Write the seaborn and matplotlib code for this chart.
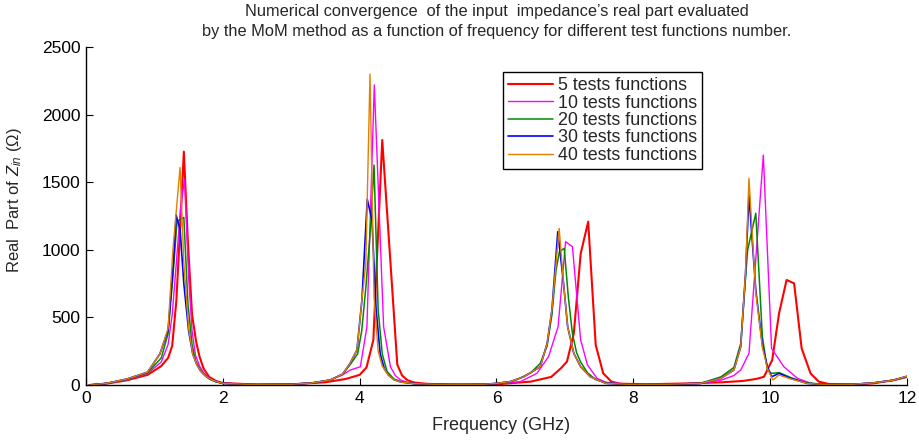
import matplotlib
matplotlib.use("Agg")
import matplotlib.pyplot as plt
import seaborn as sns
import pandas as pd

# ---- data ----
series_names = ["5 tests functions", "10 tests functions", "20 tests functions",
                "30 tests functions", "40 tests functions"]

f_5 = [0.05, 0.3, 0.6, 0.9, 1.1, 1.2, 1.26, 1.32, 1.37, 1.43, 1.49, 1.55, 1.61, 1.66, 1.72, 1.8, 1.9, 2.0, 2.4,
       3.0, 3.5, 3.8, 4.0, 4.1, 4.2, 4.33, 4.55, 4.62, 4.7, 4.8, 5.0, 5.5, 6.0, 6.5, 6.8, 6.94, 7.03, 7.13, 7.23,
       7.34, 7.45, 7.56, 7.68, 7.8, 8.2, 8.8, 9.3, 9.6, 9.8, 9.91, 10.03, 10.13, 10.24, 10.35, 10.46, 10.59, 10.71,
       10.85, 11.2, 11.5, 11.8, 12.0]
v_5 = [0, 10, 35, 75, 140, 200, 290, 620, 1100, 1726, 1050, 520, 320, 209, 120, 60, 30, 15, 5,
       5, 20, 45, 75, 130, 333, 1812, 150, 70, 35, 18, 8, 3, 5, 25, 60, 123, 173, 380, 970,
       1208, 296, 86, 25, 10, 5, 12, 20, 30, 45, 61, 185, 530, 777, 752, 271, 86, 25,
       8, 3, 12, 35, 60]

f_10 = [0.05, 0.3, 0.6, 0.9, 1.1, 1.2, 1.26, 1.32, 1.38, 1.44, 1.5, 1.55, 1.6, 1.66, 1.72, 1.8, 1.9, 2.0, 2.5,
        3.0, 3.3, 3.57, 3.75, 3.86, 4.01, 4.106, 4.214, 4.35, 4.45, 4.52, 4.6, 4.7, 4.8, 5.2, 5.8, 6.0, 6.2,
        6.35, 6.59, 6.76, 6.9, 7.01, 7.11, 7.23, 7.33, 7.47, 7.6, 8.0, 8.5, 8.98, 9.28, 9.47, 9.57, 9.69, 9.9,
        10.02, 10.2, 10.4, 10.6, 10.8, 11.2, 11.5, 11.8, 12.0]
v_10 = [0, 12, 40, 85, 170, 300, 520, 900, 1300, 1521, 800, 400, 220, 140, 90, 50, 25, 12, 3,
        5, 15, 37, 75, 110, 135, 431, 2219, 431, 135, 70, 37, 18, 10, 3, 5, 10, 18,
        25, 86, 209, 431, 1060, 1023, 333, 148, 49, 20, 4, 5, 10, 35, 70, 111, 234, 1701,
        271, 135, 49, 12, 4, 5, 15, 35, 60]

f_20 = [0.05, 0.3, 0.6, 0.9, 1.1, 1.2, 1.27, 1.33, 1.38, 1.43, 1.49, 1.55, 1.6, 1.66, 1.72, 1.8, 1.9, 2.0, 2.5,
        3.0, 3.3, 3.57, 3.75, 3.86, 3.97, 4.03, 4.09, 4.15, 4.21, 4.27, 4.33, 4.4, 4.5, 4.6, 4.8, 5.2, 5.8, 6.0,
        6.2, 6.3, 6.5, 6.64, 6.74, 6.81, 6.87, 6.92, 6.99, 7.05, 7.11, 7.17, 7.23, 7.33, 7.45, 7.6, 8.0, 8.5,
        8.98, 9.28, 9.47, 9.57, 9.67, 9.79, 9.886, 9.96, 10.02, 10.13, 10.3, 10.5, 10.7, 11.2, 11.5, 11.8, 12.0]
v_20 = [0, 12, 42, 90, 200, 380, 800, 1208, 1225, 1240, 600, 300, 180, 120, 80, 45, 22, 12, 2,
        5, 15, 37, 80, 150, 230, 400, 720, 1100, 1627, 560, 230, 100, 45, 25, 10, 3, 5, 12,
        25, 40, 90, 160, 290, 520, 850, 986, 1011, 650, 380, 240, 170, 90, 40, 15, 3, 5,
        12, 60, 130, 308, 998, 1270, 357, 110, 86, 92, 55, 20, 8, 5, 15, 35, 60]

f_30 = [0.05, 0.3, 0.6, 0.9, 1.08, 1.2, 1.277, 1.317, 1.375, 1.43, 1.5, 1.56, 1.62, 1.68, 1.75, 1.85, 2.0, 2.5,
        3.0, 3.3, 3.57, 3.75, 3.86, 3.96, 4.033, 4.111, 4.18, 4.24, 4.3, 4.36, 4.42, 4.5, 4.6, 4.8, 5.2, 5.8,
        6.0, 6.2, 6.4, 6.64, 6.74, 6.81, 6.896, 6.98, 7.04, 7.13, 7.23, 7.37, 7.6, 8.0, 8.5,
        8.98, 9.28, 9.47, 9.57, 9.64, 9.69, 9.79, 9.886, 9.96, 10.02, 10.13, 10.3, 10.54, 10.8, 11.2, 11.5,
        11.8, 12.0]
v_30 = [0, 12, 45, 95, 230, 407, 900, 1257, 1150, 750, 400, 230, 150, 100, 65, 35, 12, 2,
        5, 15, 37, 80, 160, 259, 629, 1373, 1220, 560, 230, 120, 74, 40, 22, 10, 3, 5,
        12, 25, 61, 135, 308, 555, 1134, 752, 431, 234, 135, 61, 12, 3, 5,
        12, 49, 111, 283, 826, 1405, 703, 296, 135, 61, 86, 49, 12, 3, 5, 15,
        35, 65]

f_40 = [0.05, 0.3, 0.6, 0.9, 1.08, 1.2, 1.27, 1.375, 1.43, 1.5, 1.56, 1.62, 1.68, 1.75, 1.85, 2.0, 2.5,
        3.0, 3.3, 3.57, 3.75, 3.86, 3.96, 4.033, 4.09, 4.151, 4.21, 4.27, 4.33, 4.42, 4.5, 4.6, 4.8, 5.2, 5.8,
        6.0, 6.2, 6.4, 6.64, 6.74, 6.81, 6.916, 6.98, 7.04, 7.13, 7.23, 7.37, 7.6, 8.0, 8.5,
        8.98, 9.28, 9.47, 9.57, 9.64, 9.69, 9.79, 9.886, 9.96, 10.04, 10.13, 10.3, 10.54, 10.8, 11.2, 11.5,
        11.8, 12.0]
v_40 = [0, 12, 45, 95, 230, 420, 1000, 1610, 900, 420, 230, 150, 100, 65, 35, 12, 2,
        5, 15, 37, 80, 160, 259, 629, 900, 2300, 650, 250, 140, 74, 40, 22, 10, 3, 5,
        12, 25, 61, 135, 308, 555, 1159, 752, 431, 234, 135, 61, 12, 3, 5,
        12, 49, 111, 283, 830, 1529, 680, 280, 120, 37, 74, 45, 12, 3, 5, 15,
        35, 65]

x_ticks = [0, 2, 4, 6, 8, 10, 12]
y_ticks = [0, 500, 1000, 1500, 2000, 2500]

colors = ["#ff0000", "#ff00ff", "#008a00", "#0000ff", "#e08000"]
widths = [1.5, 1.0, 1.1, 1.2, 1.0]

# ---- long table ----
frames = []
for name, f, v in zip(series_names,
                      [f_5, f_10, f_20, f_30, f_40],
                      [v_5, v_10, v_20, v_30, v_40]):
    frames.append(pd.DataFrame({"Frequency": f, "Value": v, "Series": name}))
df = pd.concat(frames, ignore_index=True)

sns.set_theme(style="white")
plt.rcParams["font.family"] = ["Liberation Sans", "DejaVu Sans"]
plt.rcParams["mathtext.fontset"] = "custom"
plt.rcParams["mathtext.rm"] = "Liberation Sans"
plt.rcParams["mathtext.it"] = "Liberation Sans:italic"

fig = plt.figure(figsize=(9.2, 4.42), dpi=100)
ax = fig.add_axes([86 / 920, 57 / 442, 821 / 920, 338 / 442])

for name, c, lw in zip(series_names, colors, widths):
    sub = df[df["Series"] == name]
    sns.lineplot(data=sub, x="Frequency", y="Value", color=c, linewidth=lw,
                 estimator=None, sort=True, ax=ax, label=name, legend=False)

ax.set_xlim(0, 12)
ax.set_ylim(0, 2500)
ax.set_xticks(x_ticks)
ax.set_yticks(y_ticks)
ax.tick_params(direction="in", length=5, width=0.8, labelsize=12.5, colors="black",
               left=True, bottom=True, pad=4)
for s in ["top", "right"]:
    ax.spines[s].set_visible(False)
for s in ["left", "bottom"]:
    ax.spines[s].set_color("black")
    ax.spines[s].set_linewidth(1.0)

ax.set_xlabel("Frequency (GHz)", fontsize=13)
ax.xaxis.set_label_coords(0.5055, -0.094)
ax.set_ylabel(r"Real  Part of $Z_{in}$ ($\Omega$)", fontsize=12)
ax.yaxis.set_label_coords(-0.075, 0.547)

fig.text(497 / 920, 1 - 4 / 442,
         "Numerical convergence  of the input  impedance\u2019s real part evaluated\n"
         "by the MoM method as a function of frequency for different test functions number.",
         ha="center", va="top", fontsize=11.8, linespacing=1.45)

handles = ax.get_lines()[:5]
leg = ax.legend(handles, series_names, loc="upper left",
                bbox_to_anchor=(503 / 920, 1 - 72 / 442), bbox_transform=fig.transFigure,
                fontsize=12.9, frameon=True, fancybox=False, shadow=False,
                handlelength=2.5, handletextpad=0.25, borderpad=0.3, labelspacing=0.02,
                borderaxespad=0)
leg.get_frame().set_edgecolor("black")
leg.get_frame().set_linewidth(1.0)
leg.get_frame().set_alpha(1)

fig.savefig("out.png", dpi=100)
